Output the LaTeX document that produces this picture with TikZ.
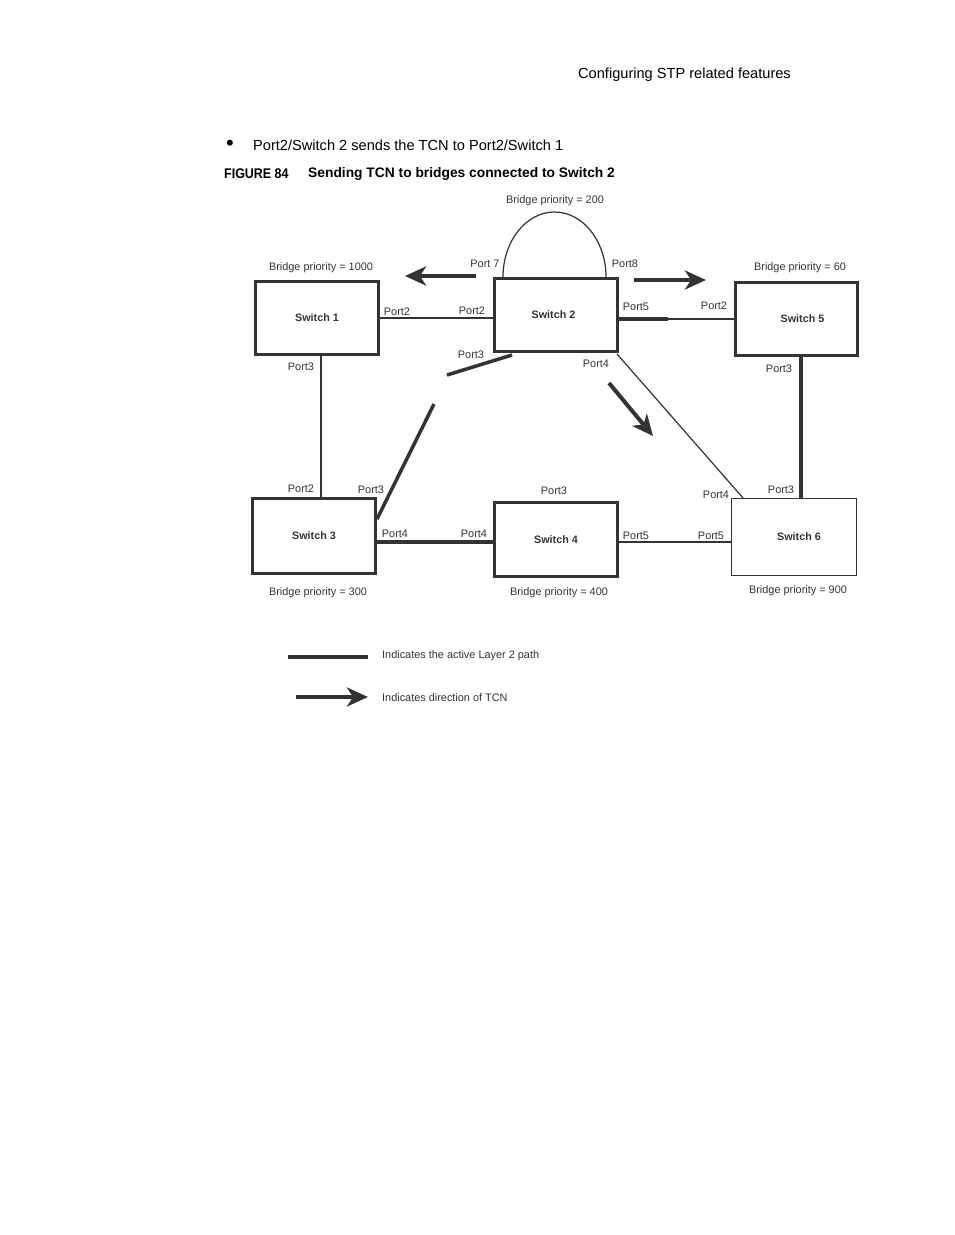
\documentclass[tikz,border=0pt]{standalone}
\usepackage{fontspec}
\setmainfont{Liberation Sans}
\usetikzlibrary{arrows.meta}
\definecolor{ink}{HTML}{333333}
\begin{document}
\begin{tikzpicture}[x=1pt,y=-1pt,
  sw/.style={draw=ink, line width=3pt, minimum width=123pt, minimum height=73pt, inner sep=0pt,
             font=\fontsize{10.8}{12}\selectfont\bfseries, text=ink},
  lbl/.style={font=\fontsize{10.9}{12}\selectfont, text=ink, inner sep=0pt, yshift=-1.5pt},
  hdrtxt/.style={font=\fontsize{14.6}{17}\selectfont, inner sep=0pt, yshift=-2pt},
  medline/.style={draw=ink, line width=2pt},
  boldline/.style={draw=ink, line width=3.5pt},
  thinline/.style={draw=ink, line width=1.2pt},
  tcn/.style={draw=ink, line width=4pt, -{Stealth[length=21pt,width=19pt,inset=6pt]}}]
\useasboundingbox (0,0) rectangle (954,1235);

% header texts
\node[hdrtxt] (hdr) at (684.5,73) {Configuring STP related features};
\node[hdrtxt, font=\fontsize{22}{22}\selectfont] (bul) at (230,143) {•};
\node[hdrtxt, anchor=west] (bultxt) at (253,143) {Port2/Switch 2 sends the TCN to Port2/Switch 1};
\node[hdrtxt, font=\fontsize{14}{17}\selectfont\bfseries, anchor=west] (fig) at (224,172) {\scalebox{0.89}[1]{FIGURE 84}};
\node[hdrtxt, font=\fontsize{13.8}{16}\selectfont\bfseries, anchor=west] (cap) at (308,172) {Sending TCN to bridges connected to Switch 2};

% switches
\node[sw] (s1) at (317,318) {Switch 1};
\node[sw] (s2) at (556,315) {\hspace*{-5pt}Switch 2};
\node[sw, minimum width=122pt] (s5) at (796.5,319) {\hspace*{12pt}Switch 5};
\node[sw, minimum height=75pt] (s3) at (314,536) {Switch 3};
\node[sw, minimum height=74pt] (s4) at (556,539.5) {Switch 4};
\node[sw, line width=1pt, minimum width=125pt, minimum height=77pt] (s6) at (794,537) {\hspace*{10pt}Switch 6};

% helper coordinates
\coordinate (x321) at (321,0);
\coordinate (x801) at (801,0);
\coordinate (y319) at (0,319);
\coordinate (y542) at (0,542);
\coordinate (m25) at (668,319);
\coordinate (p24) at (617,354);
\coordinate (p64) at (743,498);
\coordinate (b1a) at (512,355);
\coordinate (b1b) at (447,375);
\coordinate (b2a) at (434,404);
\coordinate (b2b) at (377,519);
\coordinate (a7) at (503,277);
\coordinate (atop) at (554.5,212);
\coordinate (a8) at (606,277);

% connectors
\draw[medline] (s1.east) -- (s1.east -| s2.west);
\draw[boldline] (s2.east |- y319) -- (m25);
\draw[medline] (m25) -- (s5.west |- y319);
\draw[medline] (s1.south -| x321) -- (s3.north -| x321);
\draw[boldline] (s5.south -| x801) -- (s6.north -| x801);
\draw[boldline] (s3.east |- y542) -- (s4.west |- y542);
\draw[medline] (s4.east |- y542) -- (s6.west |- y542);
\draw[thinline] (p24) -- (p64);
\draw[boldline] (b1a) -- (b1b);
\draw[boldline] (b2a) -- (b2b);
\draw[thinline] (a7) .. controls (503,241.1) and (526.06,212) .. (atop)
                     .. controls (582.94,212) and (606,241.1) .. (a8);

% TCN arrows
\coordinate (t1s) at (476,276); \coordinate (t1e) at (405,276);
\coordinate (t2s) at (634,280); \coordinate (t2e) at (706,280);
\coordinate (t3s) at (609,383); \coordinate (t3e) at (653,436);
\draw[tcn] (t1s) -- (t1e);
\draw[tcn] (t2s) -- (t2e);
\draw[tcn] (t3s) -- (t3e);

% labels
\node[lbl] (bp200) at (555,199) {Bridge priority = 200};
\node[lbl] (bp1000) at (321,266) {Bridge priority = 1000};
\node[lbl] (bp60) at (800,266) {Bridge priority = 60};
\node[lbl] (bp300) at (318,591) {Bridge priority = 300};
\node[lbl] (bp400) at (559,591) {Bridge priority = 400};
\node[lbl] (bp900) at (798,589) {Bridge priority = 900};

\node[lbl] at (485,262) {Port 7};
\node[lbl] at (625,262) {Port8};
\node[lbl] at (397,310) {Port2};
\node[lbl] at (472,309) {Port2};
\node[lbl] at (636,305) {Port5};
\node[lbl] at (714,304) {Port2};
\node[lbl] at (471,353) {Port3};
\node[lbl] at (596,362) {Port4};
\node[lbl] at (301,365) {Port3};
\node[lbl] at (779,367) {Port3};
\node[lbl] at (301,487) {Port2};
\node[lbl] at (371,488) {Port3};
\node[lbl] at (554,489) {Port3};
\node[lbl] at (716,493) {Port4};
\node[lbl] at (781,488) {Port3};
\node[lbl] at (395,532) {Port4};
\node[lbl] at (474,532) {Port4};
\node[lbl] at (636,534) {Port5};
\node[lbl] at (711,534) {Port5};

% legend
\coordinate (l1s) at (288,657); \coordinate (l1e) at (368,657);
\coordinate (l2s) at (296,697); \coordinate (l2e) at (368,697);
\draw[draw=ink, line width=4pt] (l1s) -- (l1e);
\draw[tcn] (l2s) -- (l2e);
\node[lbl, anchor=west] (leg1) at (382,654) {Indicates the active Layer 2 path};
\node[lbl, anchor=west] (leg2) at (382,696) {Indicates direction of TCN};
\end{tikzpicture}
\end{document}
